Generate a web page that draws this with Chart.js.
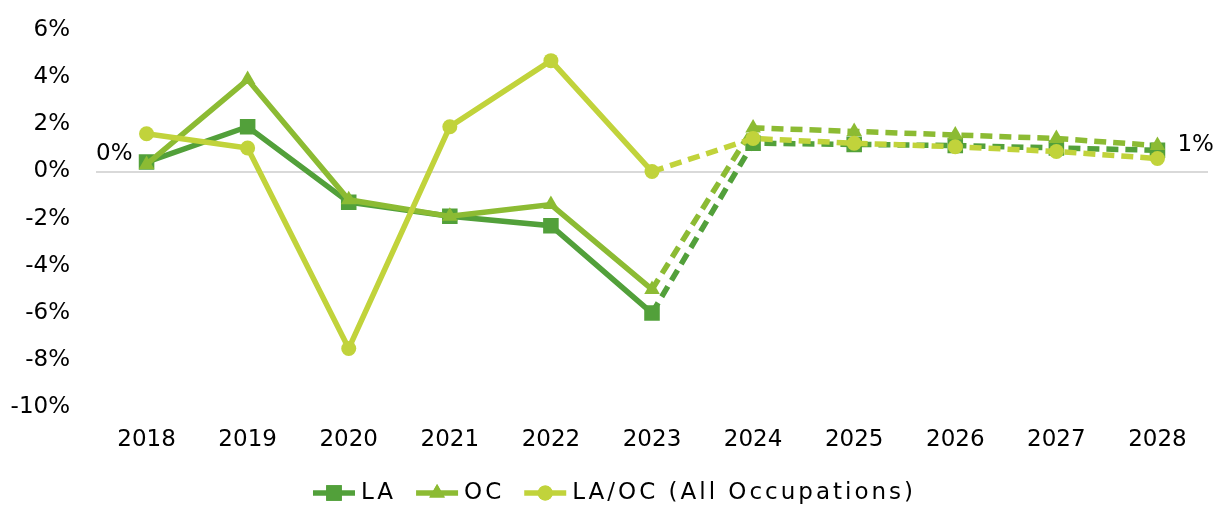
<!DOCTYPE html>
<html>
<head>
<meta charset="utf-8">
<script src="https://cdn.jsdelivr.net/npm/chart.js@4.4.1/dist/chart.umd.min.js"></script>
<style>
  html, body { margin: 0; padding: 0; background: #ffffff; }
  #wrap { width: 1229px; height: 508px; position: relative; }
</style>
</head>
<body>
<div id="wrap"><canvas id="c" width="1229" height="508"></canvas></div>
<script>
const years = ['2018','2019','2020','2021','2022','2023','2024','2025','2026','2027','2028'];
const laValues   = [0.4, 1.9, -1.3, -1.9, -2.3, -6.0, 1.2, 1.15, 1.1, 1.0, 0.9];
const ocValues   = [0.3, 3.9, -1.2, -1.9, -1.4, -5.0, 1.85, 1.7, 1.55, 1.4, 1.1];
const allValues  = [1.6, 1.0, -7.5, 1.9, 4.7, 0.0, 1.4, 1.2, 1.05, 0.85, 0.55];
const seriesNames = ['LA', 'OC', 'LA/OC (All Occupations)'];
const yTicks = [-10, -8, -6, -4, -2, 0, 2, 4, 6];
const forecastFrom = 5; // index of 2023: segments after it are dashed

const FONT = '"DejaVu Sans", "Open Sans", sans-serif';
const colors = ['#52A03A', '#8CBB33', '#C1D33B'];
const pointStyles = ['rect', 'triangle', 'circle'];
const pointRadii = [11, 9, 7.5];

const dashSeg = {
  borderDash: ctx => ctx.p0DataIndex >= forecastFrom ? [12, 7] : undefined
};

function mkDs(i, data, order) {
  return {
    label: seriesNames[i],
    data: data,
    borderColor: colors[i],
    backgroundColor: colors[i],
    pointBackgroundColor: colors[i],
    pointBorderColor: colors[i],
    pointBorderWidth: 0,
    pointStyle: pointStyles[i],
    pointRadius: pointRadii[i],
    pointHoverRadius: pointRadii[i],
    borderWidth: 5.5,
    tension: 0,
    fill: false,
    order: order,
    segment: dashSeg
  };
}

// End labels for LA series (first & last values, rounded)
const endLabels = {
  id: 'endLabels',
  afterDatasetsDraw(chart) {
    const ctx = chart.ctx;
    const meta = chart.getDatasetMeta(0);
    const first = meta.data[0], last = meta.data[meta.data.length - 1];
    const v0 = laValues[0], v1 = laValues[laValues.length - 1];
    ctx.save();
    ctx.font = '23px ' + FONT;
    ctx.fillStyle = '#000';
    ctx.textBaseline = 'middle';
    ctx.textAlign = 'right';
    ctx.fillText(Math.round(v0) + '%', first.x - 14, first.y - 8);
    ctx.textAlign = 'left';
    ctx.fillText(Math.round(v1) + '%', last.x + 20, last.y - 5);
    ctx.restore();
  }
};

// Custom legend: line + marker + text
const lineLegend = {
  id: 'lineLegend',
  afterDraw(chart) {
    const ctx = chart.ctx;
    const ds = chart.data.datasets;
    const lineLen = 42, textGap = 6, itemGap = 20;
    ctx.save();
    ctx.font = '23px ' + FONT;
    ctx.letterSpacing = '3px';
    const widths = ds.map(d => lineLen + textGap + ctx.measureText(d.label).width);
    const total = widths.reduce((a, b) => a + b, 0) + itemGap * (ds.length - 1);
    let x = chart.width / 2 - total / 2;
    const y = 493;
    ds.forEach((d, i) => {
      ctx.strokeStyle = d.borderColor;
      ctx.lineWidth = 5.5;
      ctx.setLineDash([]);
      ctx.beginPath();
      ctx.moveTo(x, y);
      ctx.lineTo(x + lineLen, y);
      ctx.stroke();
      ctx.fillStyle = d.borderColor;
      ctx.beginPath();
      Chart.helpers.drawPoint(ctx, {
        pointStyle: d.pointStyle, radius: d.pointRadius, borderWidth: 0, rotation: 0
      }, x + lineLen / 2, y);
      ctx.fill();
      ctx.fillStyle = '#000';
      ctx.textBaseline = 'middle';
      ctx.textAlign = 'left';
      ctx.fillText(d.label, x + lineLen + textGap, y);
      x += widths[i] + itemGap;
    });
    ctx.restore();
  }
};

new Chart(document.getElementById('c'), {
  type: 'line',
  data: {
    labels: years,
    datasets: [
      mkDs(0, laValues, 2),
      mkDs(1, ocValues, 1),
      mkDs(2, allValues, 0)
    ]
  },
  options: {
    responsive: false,
    animation: false,
    events: [],
    layout: { padding: { top: 30, left: 0, right: 21, bottom: 35 } },
    plugins: {
      legend: { display: false },
      tooltip: { enabled: false }
    },
    scales: {
      x: {
        offset: true,
        grid: { display: false, drawTicks: false },
        border: { display: false },
        ticks: { color: '#000', font: { family: FONT, size: 23 }, padding: 19, maxRotation: 0 }
      },
      y: {
        min: -10, max: 6,
        afterFit(scale) { scale.width = 96; scale.paddingTop = 0; scale.paddingBottom = 0; },
        afterBuildTicks(scale) { scale.ticks = yTicks.map(v => ({ value: v })); },
        grid: {
          drawTicks: false,
          lineWidth: 2,
          color: ctx => (ctx.tick && ctx.tick.value === 0) ? '#d9d9d9' : 'rgba(0,0,0,0)'
        },
        border: { display: false },
        ticks: {
          color: '#000',
          font: { family: FONT, size: 23 },
          padding: 26,
          callback: v => v + '%'
        }
      }
    }
  },
  plugins: [endLabels, lineLegend]
});
</script>
</body>
</html>
